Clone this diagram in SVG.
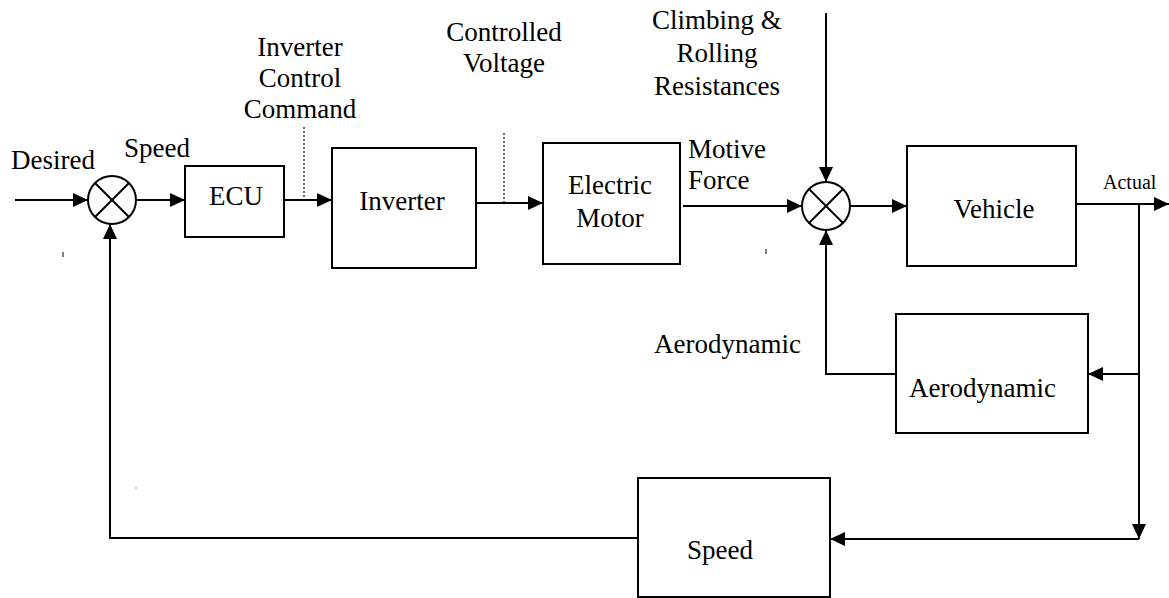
<svg xmlns="http://www.w3.org/2000/svg" width="1169" height="598" viewBox="0 0 1169 598" font-family="Liberation Serif, DejaVu Serif, serif">
<style>
text{font-size:27px;fill:#000}
.m{text-anchor:middle}
.box{fill:#fff;stroke:#000;stroke-width:2}
.sum{fill:#fff;stroke:#000;stroke-width:2}
.ln{fill:none;stroke:#000;stroke-width:2}
.dot{fill:none;stroke:#000;stroke-width:1.2;stroke-dasharray:2 2}
.arr{marker-end:url(#ah)}
</style>
<defs>
<marker id="ah" markerUnits="userSpaceOnUse" markerWidth="16" markerHeight="14" refX="15" refY="7" orient="auto">
<path d="M0,0 L15,7 L0,14 z" fill="#000"/>
</marker>
</defs>
<rect width="1169" height="598" fill="#fff"/>
<g id="connectors">
<line class="ln arr" x1="15" y1="200" x2="88" y2="200"/>
<line class="ln arr" x1="136" y1="200" x2="185" y2="200"/>
<line class="ln arr" x1="284" y1="200" x2="332" y2="200"/>
<line class="ln arr" x1="476" y1="203" x2="543" y2="203"/>
<line class="ln arr" x1="683" y1="206" x2="802" y2="206"/>
<line class="ln arr" x1="826" y1="13" x2="826" y2="182"/>
<line class="ln arr" x1="850" y1="206" x2="907" y2="206"/>
<line class="ln arr" x1="1076" y1="204" x2="1169" y2="204"/>
<line class="ln arr" x1="1139" y1="204" x2="1139" y2="539"/>
<line class="ln arr" x1="1139" y1="374" x2="1088" y2="374"/>
<polyline class="ln arr" points="896,374 826,374 826,230"/>
<line class="ln arr" x1="1139" y1="539" x2="830" y2="539"/>
<polyline class="ln arr" points="638,538 110,538 110,224"/>
<line class="dot" x1="304" y1="127" x2="304" y2="197"/>
<line class="dot" x1="504" y1="133" x2="504" y2="202"/>
</g>
<g id="sum1">
<circle class="sum" cx="112" cy="200" r="24"/>
<line class="ln" x1="95" y1="183" x2="129" y2="217"/>
<line class="ln" x1="129" y1="183" x2="95" y2="217"/>
</g>
<g id="sum2">
<circle class="sum" cx="826" cy="206" r="24"/>
<line class="ln" x1="809" y1="189" x2="843" y2="223"/>
<line class="ln" x1="843" y1="189" x2="809" y2="223"/>
</g>
<g id="ecu">
<rect class="box" x="185" y="166" width="99" height="71"/>
<text class="m" x="236" y="205">ECU</text>
</g>
<g id="inverter">
<rect class="box" x="332" y="148" width="144" height="120"/>
<text class="m" x="402" y="210">Inverter</text>
</g>
<g id="motor">
<rect class="box" x="543" y="143" width="137" height="121"/>
<text class="m" x="610" y="194">Electric</text>
<text class="m" x="610" y="227">Motor</text>
</g>
<g id="vehicle">
<rect class="box" x="907" y="146" width="169" height="120"/>
<text class="m" x="994" y="218">Vehicle</text>
</g>
<g id="aero">
<rect class="box" x="896" y="314" width="192" height="119"/>
<text x="909" y="397">Aerodynamic</text>
</g>
<g id="speedsensor">
<rect class="box" x="638" y="478" width="192" height="119"/>
<text x="687" y="559">Speed</text>
</g>
<g id="labels">
<text x="11" y="169">Desired</text>
<text x="124" y="157">Speed</text>
<text class="m" x="300" y="56">Inverter</text>
<text class="m" x="300" y="87">Control</text>
<text class="m" x="300" y="118">Command</text>
<text class="m" x="504" y="41">Controlled</text>
<text class="m" x="504" y="72">Voltage</text>
<text class="m" x="717" y="29">Climbing &amp;</text>
<text class="m" x="717" y="62">Rolling</text>
<text class="m" x="717" y="95">Resistances</text>
<text x="688" y="158">Motive</text>
<text x="688" y="189">Force</text>
<text x="1103" y="189" style="font-size:20px">Actual</text>
<text x="654" y="353">Aerodynamic</text>
</g>
<g id="marks" fill="#000">
<rect x="62.5" y="252" width="1" height="5"/>
<rect x="765.5" y="249" width="1" height="5"/>
<rect x="135.5" y="487.5" width="1" height="1"/>
</g>
</svg>
